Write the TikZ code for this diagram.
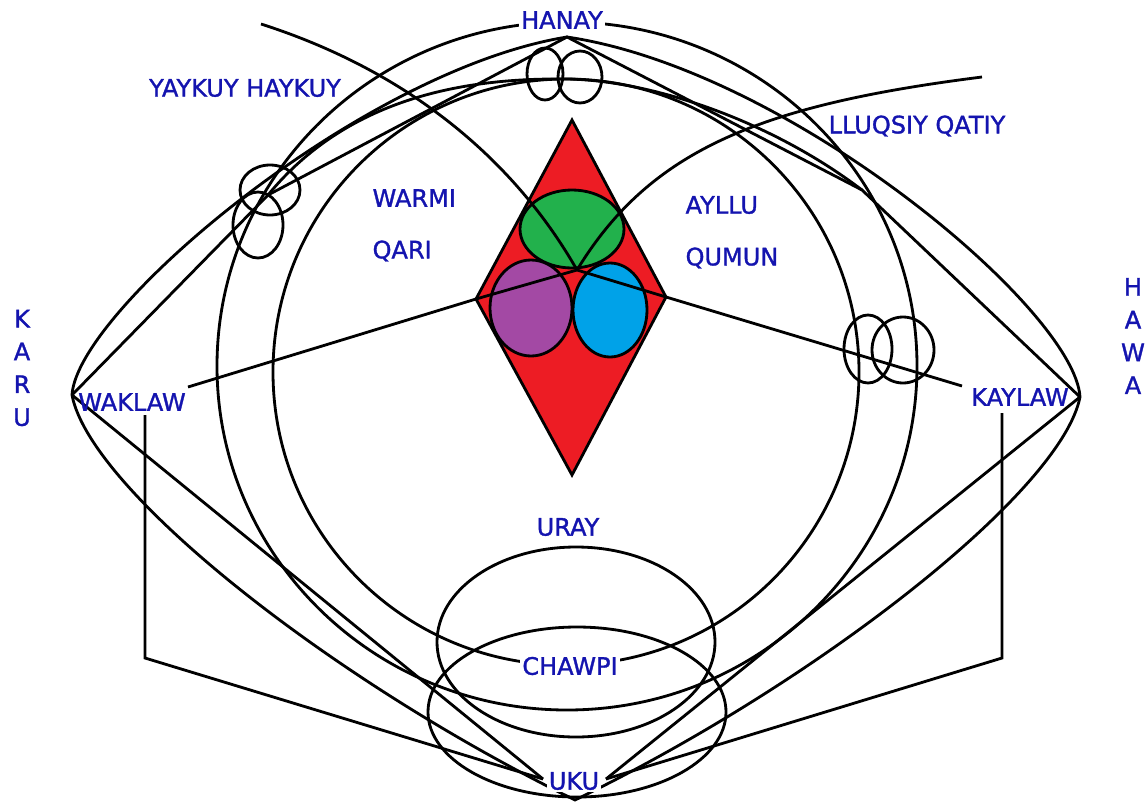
\documentclass[tikz,border=0pt]{standalone}
\usepackage{fontspec}
\setmainfont{DejaVu Sans}
\newfontfamily\lblfont{DejaVu Sans}[FakeBold=1.3]
\usepackage{xcolor}
\usetikzlibrary{positioning, calc}
\definecolor{inkblue}{RGB}{20,20,175}
\definecolor{paintred}{RGB}{237,28,36}
\definecolor{paintgreen}{RGB}{34,177,76}
\definecolor{paintpurple}{RGB}{163,73,164}
\definecolor{paintblue}{RGB}{0,162,232}
\tikzset{
    line join=round,
    lbl/.style={text=inkblue, font=\lblfont\fontsize{20.5}{24}\selectfont, inner sep=1pt},
    cutlbl/.style={lbl, fill=white, inner sep=2pt},
    vlbl/.style={lbl, align=center, font=\lblfont\fontsize{20.5}{28}\selectfont},
    ring/.style={draw, line width=2.4pt},
}

\begin{document}
\begin{tikzpicture}[x=0.03cm, y=-0.03cm, line width=2.4pt]
    \useasboundingbox (0,0) rectangle (1148,805);

    % points where the lines meet
    \coordinate (w)  at (72,395);
    \coordinate (h)  at (567,37);
    \coordinate (k)  at (1080,397);
    \coordinate (u)  at (575,800);
    \coordinate (lj) at (268,195);
    \coordinate (rb) at (862,190);
    \coordinate (tj) at (566,79);
    \coordinate (c)  at (577,270);
    \coordinate (dt) at (572,120);
    \coordinate (db) at (572,475);
    \coordinate (dl) at (476,299);
    \coordinate (dr) at (666,297);
    \coordinate (wl) at (188,387);
    \coordinate (kl) at (962,386);
    \coordinate (ul) at (543,779);
    \coordinate (ur) at (606,779);
    \coordinate (yk) at (261,24);
    \coordinate (lq) at (982,77);
    \coordinate (wb) at (145,415);
    \coordinate (wc) at (145,658);
    \coordinate (kb) at (1002,413);
    \coordinate (kc) at (1002,658);

    \filldraw[fill=paintred] (dt) -- (dr) -- (db) -- (dl) -- cycle;
    \filldraw[fill=paintgreen] (572,229) ellipse [x radius=52, y radius=39];
    \filldraw[fill=paintpurple] (531,308) ellipse [x radius=41, y radius=48];
    \filldraw[fill=paintblue] (610,310) ellipse [x radius=37, y radius=47];

    \draw[ring] (567,366) ellipse [x radius=350, y radius=344];
    \draw[ring] (566,372) ellipse [x radius=293, y radius=293];
    \draw[ring] (576,642) ellipse [x radius=139, y radius=95];
    \draw[ring] (577,712) ellipse [x radius=149, y radius=85];

    \draw[ring] (545,74) ellipse [x radius=18, y radius=26];
    \draw[ring] (580,77) ellipse [x radius=22, y radius=26];
    \draw[ring] (270,190) ellipse [x radius=30, y radius=25];
    \draw[ring] (258,225) ellipse [x radius=25, y radius=33];
    \draw[ring] (868,349) ellipse [x radius=24, y radius=34];
    \draw[ring] (903,350) ellipse [x radius=31, y radius=33];

    \draw (w) .. controls (77,310) and (362,70) .. (h)
              .. controls (790,70) and (1075,310) .. (k)
              .. controls (1062,490) and (822,680) .. (u)
              .. controls (330,680) and (90,490) .. (w);
    \draw (w) -- (lj) -- (h) -- (rb) -- (k);
    \draw (lj) .. controls (350,95) and (470,78) .. (tj)
               .. controls (650,80) and (770,120) .. (rb);
    \draw (w) -- (ul);
    \draw (k) -- (ur);
    \draw (wb) -- (wc) -- (ul);
    \draw (kb) -- (kc) -- (ur);

    \draw (yk) .. controls (420,75) and (520,170) .. (c);
    \draw (lq) .. controls (760,105) and (650,150) .. (c);
    \draw (wl) -- (dl) -- (c) -- (dr) -- (kl);

    \node[cutlbl] (hanay) at (562,20) {HANAY};
    \node[lbl] (yaykuy) at (245,88) {YAYKUY HAYKUY};
    \node[lbl] (lluqsiy) at (917,126) {LLUQSIY QATIY};
    \node[lbl, anchor=west] (warmi) at (370,198) {WARMI};
    \node[lbl, anchor=west] (qari) at (370,251) {QARI};
    \node[lbl, anchor=west] (ayllu) at (683,205) {AYLLU};
    \node[lbl, anchor=west] (qumun) at (683,258) {QUMUN};
    \node[lbl] (waklaw) at (132,402) {WAKLAW};
    \node[lbl] (kaylaw) at (1020,397) {KAYLAW};
    \node[vlbl] (karu) at (22,368) {K\\A\\R\\U};
    \node[vlbl] (hawa) at (1133,336) {H\\A\\W\\A};
    \node[lbl] (uray) at (568,527) {URAY};
    \node[cutlbl] (chawpi) at (570,666) {CHAWPI};
    \node[cutlbl] (uku) at (574,781) {UKU};
\end{tikzpicture}
\end{document}
